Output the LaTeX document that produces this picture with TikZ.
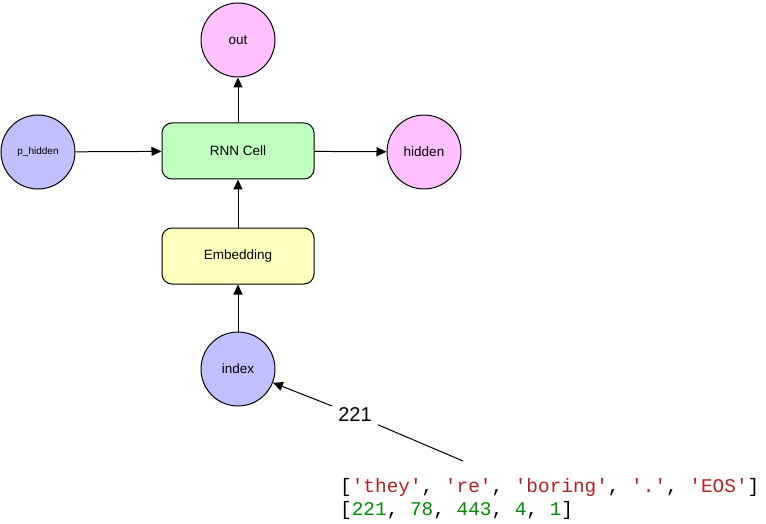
\documentclass[tikz,border=0pt]{standalone}
\usepackage{fontspec}
\setmainfont{Liberation Sans}
\setmonofont{Liberation Mono}
\usepackage{tikz}
\usetikzlibrary{arrows.meta,positioning,calc}
\definecolor{outpink}{HTML}{FFC0FF}
\definecolor{inblue}{HTML}{C0C0FF}
\definecolor{cellgreen}{HTML}{C0FFC0}
\definecolor{embyellow}{HTML}{FFFFC0}
\definecolor{strred}{HTML}{B22222}
\definecolor{numgreen}{HTML}{008B00}
\tikzset{
    state/.style={draw, circle, line width=1pt, minimum size=74pt, inner sep=0pt, font=\fontsize{13.5}{15}\selectfont},
    layer/.style={draw, rectangle, rounded corners=10pt, line width=1pt, minimum width=152pt, minimum height=56pt, font=\fontsize{13.5}{15}\selectfont},
    flow/.style={-{Triangle[length=10pt, width=9pt]}, line width=1pt}
}

\begin{document}
\begin{tikzpicture}[
            x=1pt, y=-1pt,
            codetxt/.style={anchor=base west, inner sep=0pt, font=\ttfamily\fontsize{19.4}{22}\selectfont}
        ]
            \useasboundingbox (0,0) rectangle (766,524);
            % Layers
            \node[layer, fill=cellgreen] (cell) at (238,151) {RNN Cell};
            \node[layer, fill=embyellow] (embed) at (238,256) {Embedding};
            
            % States
            \node[state, fill=outpink] (out) at (238,40) {out};
            \node[state, fill=outpink] (hidden) at (424,152) {hidden};
            \node[state, fill=inblue, font=\fontsize{10}{12}\selectfont] (phidden) at (38,152) {p\_hidden};
            \node[state, fill=inblue] (index) at (238,369) {index};
            
            % Input sequence
            \node[codetxt] (words) at (340,492) {[\textcolor{strred}{'they'}, \textcolor{strred}{'re'}, \textcolor{strred}{'boring'}, \textcolor{strred}{'.'}, \textcolor{strred}{'EOS'}]};
            \node[codetxt] (ids) at (340,515) {[\textcolor{numgreen}{221}, \textcolor{numgreen}{78}, \textcolor{numgreen}{443}, \textcolor{numgreen}{4}, \textcolor{numgreen}{1}]};
            \coordinate (first) at (463,461);
            \node[font=\fontsize{20}{22}\selectfont, inner sep=6pt] (token) at (355,415) {221};
            
            % Arrows
            \draw[flow] (cell) -- (out);
            \draw[flow] (phidden) -- (cell);
            \draw[flow] (cell) -- (hidden);
            \draw[flow] (embed) -- (cell);
            \draw[flow] (index) -- (embed);
            \draw[line width=1pt] (first) -- (token);
            \draw[flow] (token) -- (index);
            
        \end{tikzpicture}
\end{document}
